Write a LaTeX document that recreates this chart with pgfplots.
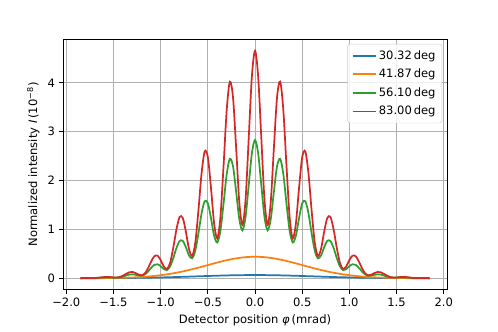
\documentclass[border=0pt]{standalone}
\usepackage{fontspec}
\setmainfont{DejaVu Sans}
\usepackage{pgfplots}
\pgfplotsset{compat=1.18}
\usepackage{pgfplotstable}
\definecolor{mplblue}{HTML}{1F77B4}
\definecolor{mplorange}{HTML}{FF7F0E}
\definecolor{mplgreen}{HTML}{2CA02C}
\definecolor{mplred}{HTML}{D62728}
\definecolor{gridgray}{HTML}{B0B0B0}

% fringe curves: x  red(83.00)  green(56.10)
\pgfplotstableread{
x r g
-1.85 0.001 0.001
-1.8 0.004 0.003
-1.7333 0.002 0.002
-1.6667 0.010 0.006
-1.6 0.024 0.015
-1.5667 0.027 0.017
-1.5333 0.023 0.016
-1.5 0.016 0.013
-1.4667 0.014 0.012
-1.4333 0.024 0.019
-1.4 0.052 0.035
-1.3667 0.089 0.055
-1.3333 0.121 0.074
-1.3 0.129 0.080
-1.2667 0.107 0.071
-1.2333 0.073 0.057
-1.2 0.059 0.053
-1.1667 0.101 0.078
-1.1333 0.207 0.138
-1.1 0.346 0.214
-1.0667 0.451 0.274
-1.0333 0.462 0.286
-1.0 0.372 0.247
-0.9667 0.242 0.188
-0.9333 0.189 0.170
-0.9 0.313 0.243
-0.8667 0.620 0.411
-0.8333 0.996 0.616
-0.8 1.252 0.760
-0.7667 1.239 0.767
-0.7333 0.960 0.637
-0.7 0.603 0.469
-0.6667 0.455 0.408
-0.6333 0.724 0.563
-0.6 1.383 0.918
-0.5667 2.142 1.326
-0.5333 2.598 1.578
-0.5 2.479 1.535
-0.4667 1.852 1.230
-0.4333 1.122 0.872
-0.4 0.815 0.732
-0.3667 1.252 0.973
-0.3333 2.305 1.531
-0.3 3.444 2.132
-0.2667 4.027 2.445
-0.2333 3.704 2.293
-0.2 2.668 1.771
-0.1667 1.558 1.211
-0.1333 1.092 0.980
-0.1 1.616 1.256
-0.0667 2.870 1.905
-0.0333 4.133 2.558
0 4.660 2.830
0.0333 4.133 2.558
0.0667 2.870 1.905
0.1 1.616 1.256
0.1333 1.092 0.980
0.1667 1.558 1.211
0.2 2.668 1.771
0.2333 3.704 2.293
0.2667 4.027 2.445
0.3 3.444 2.132
0.3333 2.305 1.531
0.3667 1.252 0.973
0.4 0.815 0.732
0.4333 1.122 0.872
0.4667 1.852 1.230
0.5 2.479 1.535
0.5333 2.598 1.578
0.5667 2.142 1.326
0.6 1.383 0.918
0.6333 0.724 0.563
0.6667 0.455 0.408
0.7 0.603 0.469
0.7333 0.960 0.637
0.7667 1.239 0.767
0.8 1.252 0.760
0.8333 0.996 0.616
0.8667 0.620 0.411
0.9 0.313 0.243
0.9333 0.189 0.170
0.9667 0.242 0.188
1.0 0.372 0.247
1.0333 0.462 0.286
1.0667 0.451 0.274
1.1 0.346 0.214
1.1333 0.207 0.138
1.1667 0.101 0.078
1.2 0.059 0.053
1.2333 0.073 0.057
1.2667 0.107 0.071
1.3 0.129 0.080
1.3333 0.121 0.074
1.3667 0.089 0.055
1.4 0.052 0.035
1.4333 0.024 0.019
1.4667 0.014 0.012
1.5 0.016 0.013
1.5333 0.023 0.016
1.5667 0.027 0.017
1.6 0.024 0.015
1.6667 0.010 0.006
1.7333 0.002 0.002
1.8 0.004 0.003
1.85 0.001 0.001
}\fringes

% broad curves: x  blue(30.32)  orange(41.87)
\pgfplotstableread{
x b o
-1.85 0.0006 0.0006
-1.8 0.0007 0.0008
-1.7 0.0012 0.0015
-1.6 0.0019 0.0029
-1.5 0.0029 0.0053
-1.4 0.0043 0.0094
-1.3 0.0062 0.0160
-1.2 0.0088 0.0261
-1.1 0.0121 0.0410
-1.0 0.0162 0.0619
-0.9 0.0211 0.0899
-0.8 0.0267 0.1254
-0.7 0.0329 0.1683
-0.6 0.0394 0.2172
-0.5 0.0459 0.2695
-0.4 0.0520 0.3215
-0.3 0.0574 0.3688
-0.2 0.0615 0.4068
-0.1 0.0641 0.4315
0 0.0650 0.4400
0.1 0.0641 0.4315
0.2 0.0615 0.4068
0.3 0.0574 0.3688
0.4 0.0520 0.3215
0.5 0.0459 0.2695
0.6 0.0394 0.2172
0.7 0.0329 0.1683
0.8 0.0267 0.1254
0.9 0.0211 0.0899
1.0 0.0162 0.0619
1.1 0.0121 0.0410
1.2 0.0088 0.0261
1.3 0.0062 0.0160
1.4 0.0043 0.0094
1.5 0.0029 0.0053
1.6 0.0019 0.0029
1.7 0.0012 0.0015
1.8 0.0007 0.0008
1.85 0.0006 0.0006
}\broad

\begin{document}
\begin{tikzpicture}
\path[use as bounding box] (-54.65pt,-36.4pt) rectangle (377.3pt,251.5pt);
\begin{axis}[
    at={(0,0)}, anchor=south west,
    scale only axis,
    width=333.1pt, height=217.7pt,
    xmin=-2.035, xmax=2.035,
    ymin=-0.24, ymax=4.9,
    xtick={-2,-1.5,-1,-0.5,0,0.5,1,1.5,2},
    xticklabels={−2.0,−1.5,−1.0,−0.5,0.0,0.5,1.0,1.5,2.0},
    ytick={0,1,2,3,4},
    yticklabels={0,1,2,3,4},
    grid=major,
    grid style={color=gridgray, line width=0.8pt},
    axis line style={line width=0.8pt, black},
    tick align=outside,
    major tick length=3.5pt,
    every tick/.style={black, line width=0.8pt},
    xtick pos=bottom, ytick pos=left,
    tick label style={font=\fontsize{10}{12}\selectfont},
    label style={font=\fontsize{10}{12}\selectfont},
    xlabel={Detector position \textit{φ}\,(mrad)},
    ylabel={Normalized intensity \textit{I}\,(10\textsuperscript{−8})},
    legend cell align=left,
    legend style={at={(1,1)}, anchor=north east, xshift=-4.3pt, yshift=-4.3pt,
        draw=black!20, rounded corners=2pt, fill=white, fill opacity=0.8, text opacity=1,
        font=\fontsize{10}{12}\selectfont, row sep=3pt, inner sep=3.5pt},
    legend image code/.code={\draw[#1, line width=1.5pt, sharp plot] (0pt,0pt) -- (20pt,0pt);},
]
\addplot[mplblue, line width=1.5pt, smooth] table[x=x, y=b] {\broad};
\addlegendentry{30.32\,deg}
\addplot[mplorange, line width=1.5pt, smooth] table[x=x, y=o] {\broad};
\addlegendentry{41.87\,deg}
\addplot[mplgreen, line width=1.5pt, smooth] table[x=x, y=g] {\fringes};
\addlegendentry{56.10\,deg}
\addplot[mplred, line width=1.5pt, smooth] table[x=x, y=r] {\fringes};
\addlegendentry{83.00\,deg}
\end{axis}
\end{tikzpicture}
\end{document}
